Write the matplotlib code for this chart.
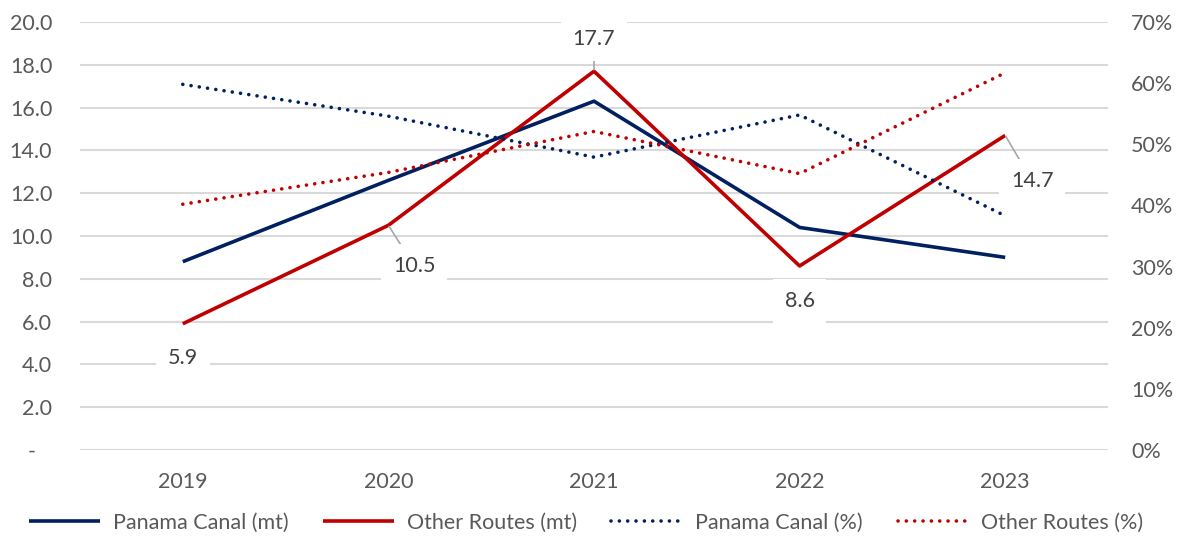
import matplotlib
matplotlib.use("Agg")
import matplotlib.pyplot as plt
from matplotlib.ticker import FuncFormatter, MultipleLocator

years = ["2019", "2020", "2021", "2022", "2023"]
panama_mt = [8.8, 12.6, 16.3, 10.4, 9.0]
other_mt = [5.9, 10.5, 17.7, 8.6, 14.7]
panama_pct = [59.8, 54.6, 47.9, 54.8, 38.3]
other_pct = [40.2, 45.4, 52.1, 45.2, 61.7]

NAVY = "#002060"
RED = "#C00000"
GRID = "#D9D9D9"
TXT = "#595959"

plt.rcParams['font.family'] = ['Lato', 'DejaVu Sans']

fig = plt.figure(figsize=(11.82, 5.36), dpi=100)
ax = fig.add_axes([80/1182, 1-450/536, (1108-80)/1182, (450-22)/536])
ax2 = ax.twinx()

x = list(range(len(years)))
l1, = ax.plot(x, panama_mt, color=NAVY, lw=2.6, solid_capstyle='butt', label="Panama Canal (mt)", zorder=3)
l2, = ax.plot(x, other_mt, color=RED, lw=2.6, solid_capstyle='butt', label="Other Routes (mt)", zorder=3)
l3, = ax2.plot(x, panama_pct, color=NAVY, lw=2.6, linestyle=(0, (0.01, 2.3)), dash_capstyle='round',
               label="Panama Canal (%)")
l4, = ax2.plot(x, other_pct, color=RED, lw=2.6, linestyle=(0, (0.01, 2.3)), dash_capstyle='round',
               label="Other Routes (%)")

ax.set_xlim(-0.5, 4.5)
ax.set_ylim(0, 20)
ax2.set_ylim(0, 70)
ax.yaxis.set_major_locator(MultipleLocator(2))
ax2.yaxis.set_major_locator(MultipleLocator(10))
ax.yaxis.set_major_formatter(FuncFormatter(lambda v, p: "-   " if abs(v) < 1e-9 else f"{v:.1f}"))
ax2.yaxis.set_major_formatter(FuncFormatter(lambda v, p: f"{v:.0f}%"))
ax.set_xticks(x)
ax.set_xticklabels(years)

for a in (ax, ax2):
    for s in a.spines.values():
        s.set_visible(False)
    a.tick_params(length=0, labelsize=15.5, labelcolor=TXT)
ax.tick_params(axis='y', pad=20)
ax2.tick_params(axis='y', pad=16.5)
ax.tick_params(axis='x', pad=16)
ax.yaxis.grid(True, color=GRID, lw=1.5)
ax.set_axisbelow(True)

# data labels for Other Routes (mt)
offsets = [(0, -24.5, False), (18.7, -29.5, True), (0, 23, True), (0, -25, False), (19.4, -33, True)]
for i, (v, (dx, dy, lead)) in enumerate(zip(other_mt, offsets)):
    kw = {}
    if lead:
        kw['arrowprops'] = dict(arrowstyle='-', color='#A6A6A6', lw=1.2, shrinkA=0, shrinkB=1)
    ax2.annotate(f"{v:.1f}", xy=(i, v), xycoords=ax.transData, xytext=(dx, dy),
                 textcoords='offset points', ha='center', va='center', fontsize=15.5, color="#404040",
                 bbox=dict(boxstyle='square,pad=0.55', fc='white', ec='none'), zorder=10, **kw)

fig.legend(handles=[l1, l2, l3, l4], loc='center', bbox_to_anchor=(0.496, 1-523/536), ncol=4,
           frameon=False, fontsize=15.5, labelcolor=TXT, handlelength=3.3, columnspacing=1.6,
           handletextpad=0.6)

fig.savefig("out.png", dpi=100)
